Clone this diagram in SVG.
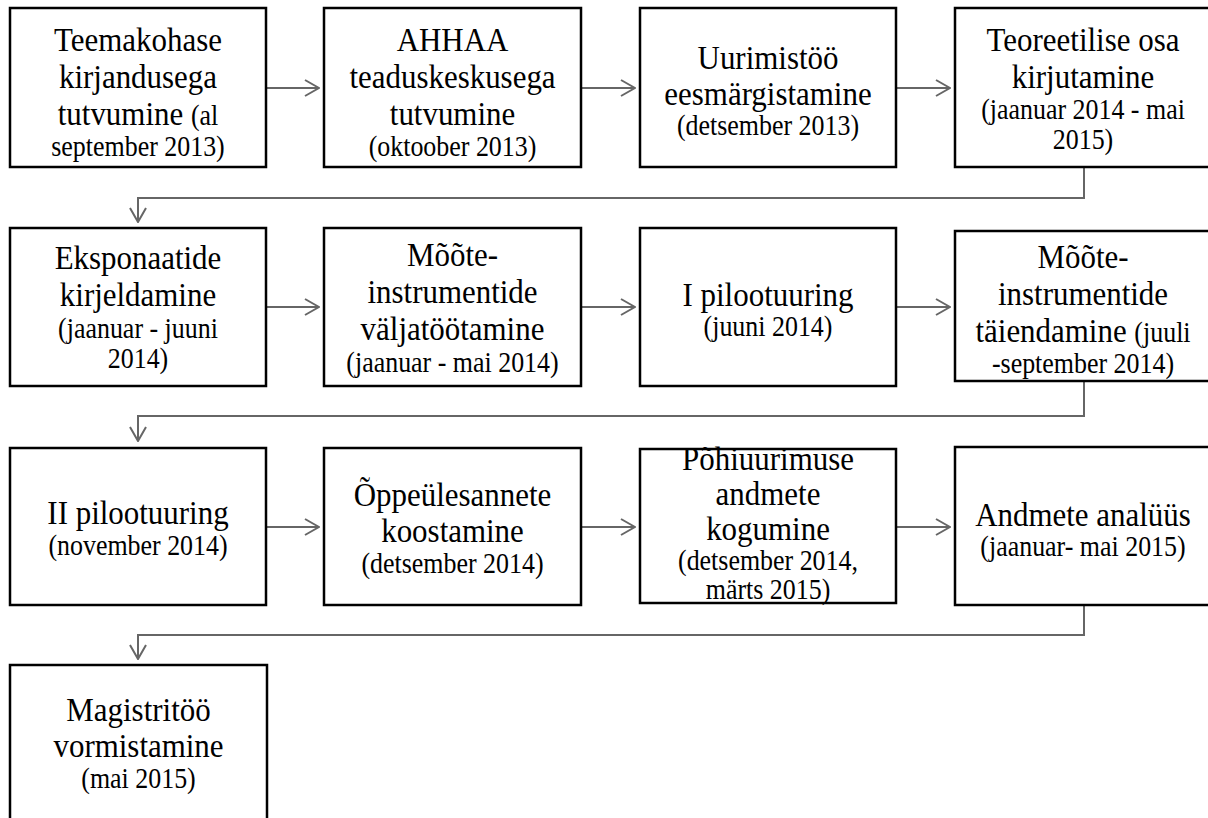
<svg xmlns="http://www.w3.org/2000/svg" width="1208" height="818" viewBox="0 0 1208 818">
<style>
.box{fill:#fff;stroke:#000;stroke-width:2.5}
text{font-family:"Liberation Serif","Times New Roman",serif;text-anchor:middle;fill:#000}
.m{font-size:34px}
.s{font-size:28.5px}
.conn{fill:none;stroke:#666;stroke-width:2}
</style>
<defs>
<marker id="ah" markerUnits="userSpaceOnUse" viewBox="0 0 16 18" refX="15" refY="9" markerWidth="16" markerHeight="18" orient="auto">
<path d="M1,1 L15,9 L1,17" fill="none" stroke="#666" stroke-width="2"/>
</marker>
</defs>
<rect width="1208" height="818" fill="#fff"/>
<g id="connectors">
<path class="conn" d="M266,88 H319" marker-end="url(#ah)"/>
<path class="conn" d="M581,88 H635" marker-end="url(#ah)"/>
<path class="conn" d="M896,88 H950" marker-end="url(#ah)"/>
<path class="conn" d="M1084,167 V198 H138 V222" marker-end="url(#ah)"/>
<path class="conn" d="M266,307 H319" marker-end="url(#ah)"/>
<path class="conn" d="M581,307 H635" marker-end="url(#ah)"/>
<path class="conn" d="M896,307 H950" marker-end="url(#ah)"/>
<path class="conn" d="M1084,381 V416 H138 V441" marker-end="url(#ah)"/>
<path class="conn" d="M266,527 H319" marker-end="url(#ah)"/>
<path class="conn" d="M581,527 H635" marker-end="url(#ah)"/>
<path class="conn" d="M896,527 H950" marker-end="url(#ah)"/>
<path class="conn" d="M1084,605 V635 H138 V659" marker-end="url(#ah)"/>
</g>
<g id="n1">
<rect class="box" x="10" y="8" width="256" height="159"/>
<text transform="matrix(0.91,0,0,1,138,0)"><tspan class="m" x="0" y="51">Teemakohase</tspan><tspan class="m" x="0" y="88">kirjandusega</tspan><tspan class="m" x="0" y="125">tutvumine <tspan class="s">(al</tspan></tspan><tspan class="s" x="0" y="156">september 2013)</tspan></text>
</g>
<g id="n2">
<rect class="box" x="324" y="8" width="257" height="159"/>
<text transform="matrix(0.91,0,0,1,452.5,0)"><tspan class="m" x="0" y="51">AHHAA</tspan><tspan class="m" x="0" y="88">teaduskeskusega</tspan><tspan class="m" x="0" y="125">tutvumine</tspan><tspan class="s" x="0" y="156">(oktoober 2013)</tspan></text>
</g>
<g id="n3">
<rect class="box" x="640" y="8" width="256" height="159"/>
<text transform="matrix(0.91,0,0,1,768,0)"><tspan class="m" x="0" y="69">Uurimistöö</tspan><tspan class="m" x="0" y="105">eesmärgistamine</tspan><tspan class="s" x="0" y="135">(detsember 2013)</tspan></text>
</g>
<g id="n4">
<rect class="box" x="955" y="8" width="260" height="159"/>
<text transform="matrix(0.91,0,0,1,1083,0)"><tspan class="m" x="0" y="51">Teoreetilise osa</tspan><tspan class="m" x="0" y="88">kirjutamine</tspan><tspan class="s" x="0" y="119">(jaanuar 2014 - mai</tspan><tspan class="s" x="0" y="149">2015)</tspan></text>
</g>
<g id="n5">
<rect class="box" x="10" y="228" width="256" height="158"/>
<text transform="matrix(0.91,0,0,1,138,0)"><tspan class="m" x="0" y="269">Eksponaatide</tspan><tspan class="m" x="0" y="306">kirjeldamine</tspan><tspan class="s" x="0" y="338">(jaanuar - juuni</tspan><tspan class="s" x="0" y="368">2014)</tspan></text>
</g>
<g id="n6">
<rect class="box" x="324" y="228" width="257" height="158"/>
<text transform="matrix(0.91,0,0,1,452.5,0)"><tspan class="m" x="0" y="266">Mõõte-</tspan><tspan class="m" x="0" y="303">instrumentide</tspan><tspan class="m" x="0" y="340">väljatöötamine</tspan><tspan class="s" x="0" y="372">(jaanuar - mai 2014)</tspan></text>
</g>
<g id="n7">
<rect class="box" x="640" y="228" width="256" height="158"/>
<text transform="matrix(0.91,0,0,1,768,0)"><tspan class="m" x="0" y="306">I pilootuuring</tspan><tspan class="s" x="0" y="336">(juuni 2014)</tspan></text>
</g>
<g id="n8">
<rect class="box" x="955" y="231" width="260" height="150"/>
<text transform="matrix(0.91,0,0,1,1083,0)"><tspan class="m" x="0" y="268">Mõõte-</tspan><tspan class="m" x="0" y="305">instrumentide</tspan><tspan class="m" x="0" y="342">täiendamine <tspan class="s">(juuli</tspan></tspan><tspan class="s" x="0" y="373">-september 2014)</tspan></text>
</g>
<g id="n9">
<rect class="box" x="10" y="448" width="256" height="157"/>
<text transform="matrix(0.91,0,0,1,138,0)"><tspan class="m" x="0" y="524">II pilootuuring</tspan><tspan class="s" x="0" y="555">(november 2014)</tspan></text>
</g>
<g id="n10">
<rect class="box" x="324" y="448" width="257" height="157"/>
<text transform="matrix(0.91,0,0,1,452.5,0)"><tspan class="m" x="0" y="506">Õppeülesannete</tspan><tspan class="m" x="0" y="542">koostamine</tspan><tspan class="s" x="0" y="573">(detsember 2014)</tspan></text>
</g>
<g id="n11">
<rect class="box" x="640" y="449" width="256" height="154"/>
<text transform="matrix(0.91,0,0,1,768,0)"><tspan class="m" x="0" y="470">Põhiuurimuse</tspan><tspan class="m" x="0" y="505">andmete</tspan><tspan class="m" x="0" y="540">kogumine</tspan><tspan class="s" x="0" y="570">(detsember 2014,</tspan><tspan class="s" x="0" y="599">märts 2015)</tspan></text>
</g>
<g id="n12">
<rect class="box" x="955" y="447" width="260" height="158"/>
<text transform="matrix(0.91,0,0,1,1083,0)"><tspan class="m" x="0" y="526">Andmete analüüs</tspan><tspan class="s" x="0" y="556">(jaanuar- mai 2015)</tspan></text>
</g>
<g id="n13">
<rect class="box" x="10" y="665" width="257" height="170"/>
<text transform="matrix(0.91,0,0,1,138.5,0)"><tspan class="m" x="0" y="721">Magistritöö</tspan><tspan class="m" x="0" y="757">vormistamine</tspan><tspan class="s" x="0" y="788">(mai 2015)</tspan></text>
</g>
</svg>
